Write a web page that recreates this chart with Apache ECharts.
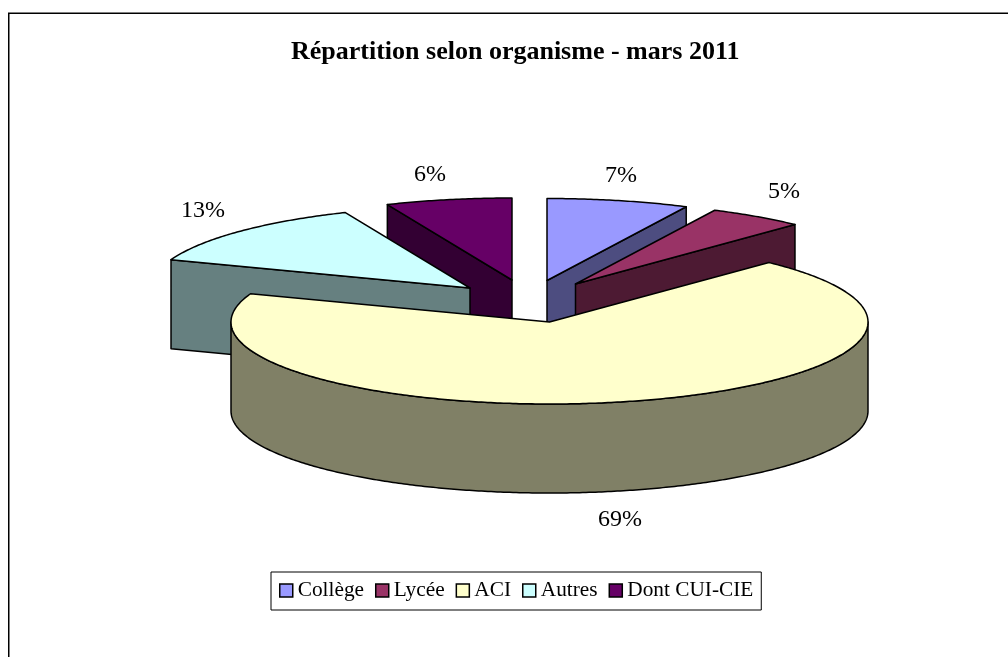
<!DOCTYPE html>
<html>
<head>
<meta charset="utf-8">
<style>html,body{margin:0;padding:0;background:#fff}#c{width:1008px;height:657px}</style>
<script src="https://cdn.jsdelivr.net/npm/echarts@6/dist/echarts.min.js"></script>
</head>
<body>
<div id="c"></div>
<script>
// Data
var categories = ['Collège', 'Lycée', 'ACI', 'Autres', 'Dont CUI-CIE'];
var shares = [7.2, 4.9, 68.5, 13.0, 6.4];
var titleText = 'Répartition selon organisme - mars 2011';

// Styles and layout (not data)
var topColors = ['#9999FF', '#993366', '#FFFFCC', '#CCFFFF', '#660066'];
var wallColors = ['#4D4D80', '#4D1A33', '#808066', '#668080', '#330033'];
var centers = [[547, 280.5], [575.5, 284], [549.5, 322], [470, 288], [512, 280]];
var labelAnchors = [[621, 175.5], [784, 191.5], [620, 519.5], [203, 210.5], [430, 174.5]];
var paintOrder = [0, 1, 4, 3, 2];
var RX = 318.5, RY = 82, DEPTH = 89;
var FONT = '"Liberation Serif", "Times New Roman", serif';

var total = shares.reduce(function (a, b) { return a + b; }, 0);

function angleAt(i) {
  var sum = 0;
  for (var k = 0; k < i; k++) sum += shares[k];
  return sum / total * Math.PI * 2;
}
function rim(c, a, dy) {
  return [c[0] + RX * Math.sin(a), c[1] - RY * Math.cos(a) + (dy || 0)];
}
function arcPoints(c, a0, a1, dy) {
  var n = Math.max(2, Math.ceil(Math.abs(a1 - a0) / 0.01)), pts = [];
  for (var i = 0; i <= n; i++) pts.push(rim(c, a0 + (a1 - a0) * i / n, dy));
  return pts;
}
function face(points, fill, z2) {
  return {
    type: 'polygon', z2: z2,
    shape: { points: points },
    style: { fill: fill, stroke: '#000', lineWidth: 1.5, lineJoin: 'round' }
  };
}
function radialWall(c, a, fill) {
  var p = rim(c, a);
  return face([p, c, [c[0], c[1] + DEPTH], [p[0], p[1] + DEPTH]], fill, 1);
}

function makeRender(i) {
  return function () {
    var a0 = angleAt(i), a1 = angleAt(i + 1), c = centers[i], kids = [];
    var half = Math.PI, quarter = Math.PI / 2;
    if (a0 > half && a0 < 2 * half) kids.push(radialWall(c, a0, wallColors[i]));
    if (a1 > 0 && a1 < half) kids.push(radialWall(c, a1, wallColors[i]));
    var w0 = Math.max(a0, quarter), w1 = Math.min(a1, 3 * quarter);
    if (w1 > w0) {
      var front = arcPoints(c, w0, w1, 0);
      var back = arcPoints(c, w1, w0, DEPTH);
      kids.push(face(front.concat(back), wallColors[i], 2));
    }
    kids.push(face([c].concat(arcPoints(c, a0, a1, 0)), topColors[i], 3));
    kids.push({
      type: 'text', z2: 4,
      style: {
        x: labelAnchors[i][0], y: labelAnchors[i][1],
        text: Math.round(shares[i]) + '%',
        fill: '#000', font: '24px ' + FONT,
        align: 'center', verticalAlign: 'middle'
      }
    });
    return { type: 'group', children: kids };
  };
}

var series = paintOrder.map(function (i, order) {
  return {
    type: 'custom',
    name: categories[i],
    coordinateSystem: 'none',
    z: 2 + order,
    silent: true,
    animation: false,
    itemStyle: { color: topColors[i] },
    data: [shares[i]],
    renderItem: makeRender(i)
  };
});

var chart = echarts.init(document.getElementById('c'), null, { renderer: 'canvas' });
chart.setOption({
  animation: false,
  backgroundColor: '#fff',
  title: {
    text: titleText, left: 291, top: 39, padding: 0,
    textStyle: { fontFamily: FONT, fontWeight: 'bold', fontSize: 26, color: '#000' }
  },
  legend: {
    left: 271, top: 572, orient: 'horizontal',
    padding: [8, 8, 9, 8], itemGap: 11, itemWidth: 13, itemHeight: 13,
    borderColor: '#000', borderWidth: 1, selectedMode: false,
    textStyle: { fontFamily: FONT, fontSize: 21.3, color: '#000' },
    data: categories.map(function (n, i) {
      return { name: n, icon: 'rect', itemStyle: { color: topColors[i], borderColor: '#000', borderWidth: 1.5 } };
    })
  },
  graphic: [{
    type: 'polyline', silent: true,
    shape: { points: [[8.75, 657], [8.75, 13.25], [1008, 13.25]] },
    style: { fill: null, stroke: '#000', lineWidth: 1.5 }
  }],
  series: series
});
</script>
</body>
</html>
